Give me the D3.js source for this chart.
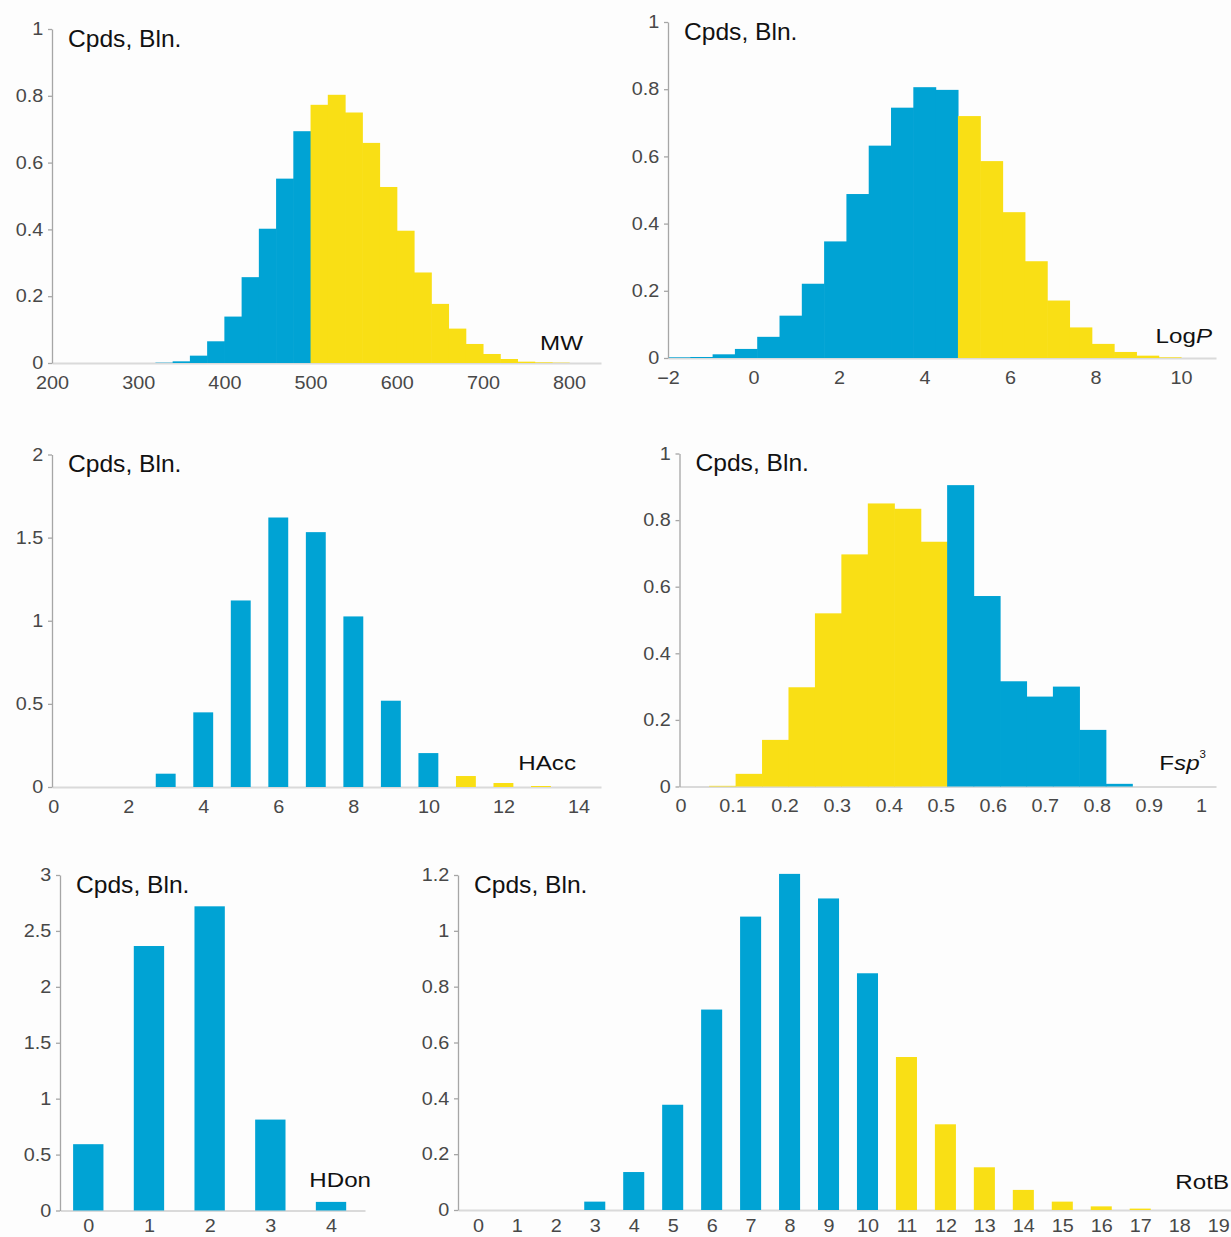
<!DOCTYPE html>
<html>
<head>
<meta charset="utf-8">
<script src="https://d3js.org/d3.v7.min.js"></script>
<style>
body { margin: 0; background: #fdfdfd; }
svg { display: block; font-family: "Liberation Sans", Arial, sans-serif; }
.yax path, .yax line { stroke: #a6a6a6; stroke-width: 1.3; }
.xax path { stroke: #dadada; stroke-width: 2; }
.tick text { fill: #484848; font-size: 18px; }
.lbl { fill: #111; font-size: 23px; }
.name { fill: #111; font-size: 21px; }
</style>
</head>
<body>
<div id="chart"></div>
<script>
//setup SVG
var w = 1231
var h = 1237
var blue = "#00a3d4"
var yellow = "#f9df15"

var svg = d3.select("#chart")
    .append("svg")
    .attr("width", w)
    .attr("height", h)

//data (billions of compounds per bin)

// MW histogram, bins of 20 from 320 to 800, first 9 bins (< 500) blue
var mwValues = [0.001, 0.005, 0.022, 0.065, 0.139, 0.257, 0.402, 0.552, 0.694,
    0.773, 0.803, 0.750, 0.659, 0.527, 0.396, 0.271, 0.177, 0.103, 0.057, 0.027, 0.012, 0.004, 0.002, 0.001]
var mwBinRange = [320, 800]
var mwBlueBins = 9
var mwTicks = [200, 300, 400, 500, 600, 700, 800]
var mwYTicks = [0, 0.2, 0.4, 0.6, 0.8, 1]

// LogP histogram, 23 bins between -2 and 10, first 13 blue
var logpValues = [0.002, 0.003, 0.011, 0.027, 0.063, 0.126, 0.221, 0.347, 0.488, 0.632, 0.745, 0.806, 0.798,
    0.720, 0.586, 0.434, 0.288, 0.171, 0.091, 0.042, 0.018, 0.007, 0.002]
var logpBinRange = [-2, 10]
var logpBlueBins = 13
var logpTicks = [-2, 0, 2, 4, 6, 8, 10]
var logpYTicks = [0, 0.2, 0.4, 0.6, 0.8, 1]

// H-bond acceptors
var haccX = [0, 1, 2, 3, 4, 5, 6, 7, 8, 9, 10, 11, 12, 13, 14]
var haccValues = [0, 0, 0, 0.08, 0.449, 1.122, 1.621, 1.533, 1.026, 0.519, 0.204, 0.066, 0.024, 0.006, 0]
var haccLimit = 10
var haccTicks = [0, 2, 4, 6, 8, 10, 12, 14]
var haccYTicks = [0, 0.5, 1, 1.5, 2]

// Fsp3 histogram, 16 bins, first 9 (< 0.5) yellow
var fspValues = [0.002, 0.038, 0.14, 0.298, 0.52, 0.697, 0.85, 0.834, 0.735,
    0.905, 0.572, 0.316, 0.27, 0.30, 0.17, 0.008]
var fspBinRange = [0.055, 0.868]
var fspYellowBins = 9
var fspTicks = [0, 0.1, 0.2, 0.3, 0.4, 0.5, 0.6, 0.7, 0.8, 0.9, 1]
var fspYTicks = [0, 0.2, 0.4, 0.6, 0.8, 1]

// H-bond donors
var hdonX = [0, 1, 2, 3, 4]
var hdonValues = [0.593, 2.365, 2.72, 0.813, 0.077]
var hdonTicks = [0, 1, 2, 3, 4]
var hdonYTicks = [0, 0.5, 1, 1.5, 2, 2.5, 3]

// rotatable bonds
var rotbX = [0, 1, 2, 3, 4, 5, 6, 7, 8, 9, 10, 11, 12, 13, 14, 15, 16, 17, 18, 19]
var rotbValues = [0, 0, 0, 0.030, 0.136, 0.377, 0.718, 1.051, 1.204, 1.116, 0.848,
    0.548, 0.307, 0.153, 0.072, 0.030, 0.013, 0.005, 0, 0]
var rotbLimit = 10
var rotbTicks = [0, 1, 2, 3, 4, 5, 6, 7, 8, 9, 10, 11, 12, 13, 14, 15, 16, 17, 18, 19]
var rotbYTicks = [0, 0.2, 0.4, 0.6, 0.8, 1, 1.2]

//panels

var panels = [
    {kind: "hist", values: mwValues, binRange: mwBinRange, color: function(i){ return i < mwBlueBins ? blue : yellow },
     xDomain: [200, 837], xRange: [52, 601], yDomain: [0, 1], yRange: [363, 29], pad: 13,
     xTicks: mwTicks, yTicks: mwYTicks, name: [{t: "MW"}], nameAt: [583, 350]},
    {kind: "hist", values: logpValues, binRange: logpBinRange, color: function(i){ return i < logpBlueBins ? blue : yellow },
     xDomain: [-2, 10.82], xRange: [668, 1216], yDomain: [0, 1], yRange: [358, 22], pad: 13,
     xTicks: logpTicks, yTicks: logpYTicks, name: [{t: "Log"}, {t: "P", it: true}], nameAt: [1212, 343]},
    {kind: "bars", cats: haccX, values: haccValues, barWidth: 0.53, color: function(i, c){ return c > haccLimit ? yellow : blue },
     xDomain: [-0.03, 14.6], xRange: [52, 601], yDomain: [0, 2], yRange: [787, 454.5], pad: 13,
     xTicks: haccTicks, yTicks: haccYTicks, name: [{t: "HAcc"}], nameAt: [576, 770]},
    {kind: "hist", values: fspValues, binRange: fspBinRange, color: function(i){ return i < fspYellowBins ? yellow : blue },
     xDomain: [-0.002, 1.029], xRange: [679.5, 1216], yDomain: [0, 1], yRange: [786.5, 453.5], pad: 13,
     xTicks: fspTicks, yTicks: fspYTicks, name: [{t: "F"}, {t: "sp", it: true}, {t: "3", sup: true}], nameAt: [1206, 770]},
    {kind: "bars", cats: hdonX, values: hdonValues, barWidth: 0.5, color: function(){ return blue },
     xDomain: [-0.466, 4.56], xRange: [60, 365], yDomain: [0, 3], yRange: [1210.5, 875], pad: 9,
     xTicks: hdonTicks, yTicks: hdonYTicks, name: [{t: "HDon"}], nameAt: [371, 1187]},
    {kind: "bars", cats: rotbX, values: rotbValues, barWidth: 0.54, color: function(i, c){ return c > rotbLimit ? yellow : blue },
     xDomain: [-0.51, 19.33], xRange: [458, 1231], yDomain: [0, 1.2], yRange: [1210, 875], pad: 9,
     xTicks: rotbTicks, yTicks: rotbYTicks, name: [{t: "RotB"}], nameAt: [1229, 1189]}
]

panels.forEach(drawPanel)

function drawPanel(p){
    var g = svg.append("g")
    var x = d3.scaleLinear().domain(p.xDomain).range(p.xRange)
    var y = d3.scaleLinear().domain(p.yDomain).range(p.yRange)

    // x axis: light line, no tick marks
    var xg = g.append("g")
        .attr("class", "xax")
        .attr("transform", "translate(0," + p.yRange[0] + ")")
        .call(d3.axisBottom(x).tickValues(p.xTicks).tickSize(0).tickSizeOuter(0).tickPadding(p.pad).tickFormat(d3.format("")))
    xg.selectAll(".tick text").attr("transform", "scale(1.1,1)")

    // bars
    if(p.kind == "hist"){
        var band = d3.scaleBand()
            .domain(d3.range(p.values.length))
            .range([x(p.binRange[0]), x(p.binRange[1])])
        g.selectAll(".bar")
            .data(p.values)
            .enter()
            .append("rect")
            .attr("class", "bar")
            .attr("x", function(d, i){ return band(i) })
            .attr("width", band.bandwidth() + 0.6)
            .attr("y", function(d){ return y(d) })
            .attr("height", function(d){ return y(0) - y(d) })
            .attr("fill", function(d, i){ return p.color(i) })
    }else{
        var bw = (x(1) - x(0)) * p.barWidth
        g.selectAll(".bar")
            .data(p.values)
            .enter()
            .append("rect")
            .attr("class", "bar")
            .attr("x", function(d, i){ return x(p.cats[i]) - bw / 2 })
            .attr("width", bw)
            .attr("y", function(d){ return y(d) })
            .attr("height", function(d){ return y(0) - y(d) })
            .attr("fill", function(d, i){ return p.color(i, p.cats[i]) })
    }

    // y axis with short ticks
    var yg = g.append("g")
        .attr("class", "yax")
        .attr("transform", "translate(" + p.xRange[0] + ",0)")
        .call(d3.axisLeft(y).tickValues(p.yTicks).tickSize(4).tickSizeOuter(0).tickPadding(4).tickFormat(d3.format("")))
    yg.selectAll(".tick text").attr("transform", "scale(1.1,1)")

    // unit label
    g.append("text")
        .attr("class", "lbl")
        .attr("transform", "translate(" + (p.xRange[0] + 16) + "," + (p.yRange[1] + 17.5) + ") scale(1.07,1)")
        .text("Cpds, Bln.")

    // variable name
    var nm = g.append("text")
        .attr("class", "name")
        .attr("text-anchor", "end")
        .attr("transform", "translate(" + p.nameAt[0] + "," + p.nameAt[1] + ") scale(1.15,1)")
    p.name.forEach(function(s){
        var t = nm.append("tspan").text(s.t)
        if(s.it) t.attr("font-style", "italic")
        if(s.sup) t.attr("font-size", 10).attr("dy", -12)
    })
}
</script>
</body>
</html>
